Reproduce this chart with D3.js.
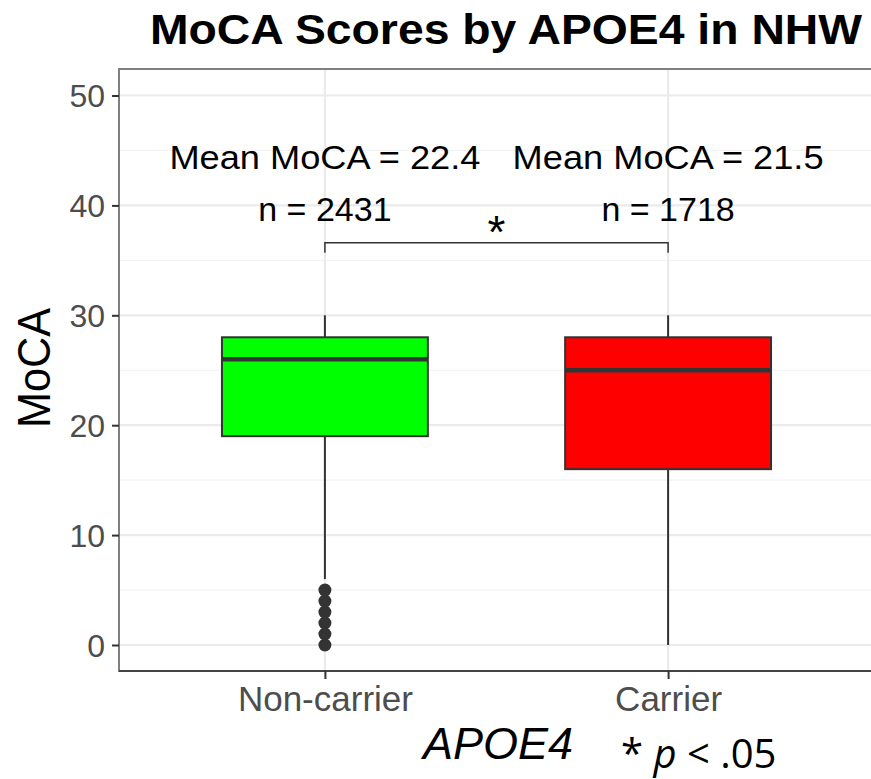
<!DOCTYPE html>
<html>
<head>
<meta charset="utf-8">
<script src="https://cdn.jsdelivr.net/npm/d3@7"></script>
<style>
  html, body { margin: 0; padding: 0; background: #fff; }
  svg { display: block; }
</style>
</head>
<body>
<svg id="chart" width="871" height="779"></svg>
<script>
// Groups and summary statistics (MoCA by APOE4 carrier status)
const groups = ["Non-carrier", "Carrier"];
const boxFill = ["#00ff00", "#ff0000"];
const whiskerLow = [6, 0];
const q1 = [19, 16];
const medians = [26, 25];
const q3 = [28, 28];
const whiskerHigh = [30, 30];
const outliers = [[0, 1, 2, 3, 4, 5], []];
const meanScores = [22.4, 21.5];
const counts = [2431, 1718];
const yTicks = [0, 10, 20, 30, 40, 50];
const yMinor = [5, 15, 25, 35, 45];

const svg = d3.select("#chart");
const font = "'Liberation Sans', Arial, Helvetica, sans-serif";

const panel = { left: 119, right: 874, top: 69, bottom: 671 };

const x = d3.scalePoint().domain(groups)
  .range([panel.left, panel.right]).padding(0.6);
const y = d3.scaleLinear().domain([0, 50]).range([645, 95.5]);
const boxW = x.step() * 0.6;

svg.append("defs").append("clipPath").attr("id", "panelClip")
  .append("rect")
  .attr("x", panel.left).attr("y", panel.top)
  .attr("width", panel.right - panel.left).attr("height", panel.bottom - panel.top);

const g = svg.append("g").attr("clip-path", "url(#panelClip)");

// grid
g.selectAll(".minor").data(yMinor).join("line")
  .attr("x1", panel.left).attr("x2", panel.right)
  .attr("y1", d => y(d)).attr("y2", d => y(d))
  .attr("stroke", "#f2f2f2").attr("stroke-width", 1.2);
g.selectAll(".major").data(yTicks).join("line")
  .attr("x1", panel.left).attr("x2", panel.right)
  .attr("y1", d => y(d)).attr("y2", d => y(d))
  .attr("stroke", "#ebebeb").attr("stroke-width", 2.2);
g.selectAll(".vmajor").data(groups).join("line")
  .attr("x1", d => x(d)).attr("x2", d => x(d))
  .attr("y1", panel.top).attr("y2", panel.bottom)
  .attr("stroke", "#ebebeb").attr("stroke-width", 2.2);

// boxes
const boxes = g.selectAll(".box").data(groups).join("g");
boxes.append("line")
  .attr("x1", d => x(d)).attr("x2", d => x(d))
  .attr("y1", (d, i) => y(whiskerHigh[i])).attr("y2", (d, i) => y(q3[i]))
  .attr("stroke", "#333").attr("stroke-width", 2);
boxes.append("line")
  .attr("x1", d => x(d)).attr("x2", d => x(d))
  .attr("y1", (d, i) => y(q1[i])).attr("y2", (d, i) => y(whiskerLow[i]))
  .attr("stroke", "#333").attr("stroke-width", 2);
boxes.append("rect")
  .attr("x", d => x(d) - boxW / 2).attr("width", boxW)
  .attr("y", (d, i) => y(q3[i])).attr("height", (d, i) => y(q1[i]) - y(q3[i]))
  .attr("fill", (d, i) => boxFill[i])
  .attr("stroke", "#333").attr("stroke-width", 2);
boxes.append("line")
  .attr("x1", d => x(d) - boxW / 2).attr("x2", d => x(d) + boxW / 2)
  .attr("y1", (d, i) => y(medians[i])).attr("y2", (d, i) => y(medians[i]))
  .attr("stroke", "#333").attr("stroke-width", 4.5);
boxes.each(function (d, i) {
  d3.select(this).selectAll("circle").data(outliers[i]).join("circle")
    .attr("cx", x(d)).attr("cy", v => y(v)).attr("r", 6.5)
    .attr("fill", "#333");
});

// panel border
svg.append("rect")
  .attr("x", panel.left).attr("y", panel.top)
  .attr("width", panel.right - panel.left).attr("height", panel.bottom - panel.top)
  .attr("fill", "none").attr("stroke", "#7f7f7f").attr("stroke-width", 2);
svg.append("line")
  .attr("x1", panel.left).attr("x2", panel.right)
  .attr("y1", panel.bottom).attr("y2", panel.bottom)
  .attr("stroke", "#444").attr("stroke-width", 2);

// axes
const yAxis = svg.append("g").attr("transform", `translate(${panel.left},0)`)
  .call(d3.axisLeft(y).tickValues(yTicks).tickSize(7).tickPadding(7));
const xAxis = svg.append("g").attr("transform", `translate(0,${panel.bottom})`)
  .call(d3.axisBottom(x).tickSize(8).tickPadding(6));
[yAxis, xAxis].forEach(a => {
  a.select(".domain").remove();
  a.selectAll(".tick line").attr("stroke", "#333").attr("stroke-width", 2);
  a.selectAll(".tick text").attr("fill", "#4d4d4d").attr("font-family", font);
});
yAxis.selectAll(".tick text").attr("font-size", 32).attr("dy", "0.35em");
xAxis.selectAll(".tick text").attr("font-size", 35).attr("dy", "0.74em");

// annotations: means and counts
const ann = svg.append("g").attr("font-family", font).attr("fill", "#000")
  .attr("text-anchor", "middle").attr("font-size", 34);
ann.selectAll(".mean").data(groups).join("text")
  .attr("x", d => x(d)).attr("y", y(43.3))
  .attr("textLength", 311).attr("lengthAdjust", "spacingAndGlyphs")
  .text((d, i) => `Mean MoCA = ${meanScores[i].toFixed(1)}`);
ann.selectAll(".n").data(groups).join("text")
  .attr("x", d => x(d)).attr("y", y(38.6))
  .text((d, i) => `n = ${counts[i]}`);

// significance bracket
const yb = y(36.6), ybt = y(35.7);
svg.append("path")
  .attr("d", `M${x(groups[0])},${ybt}V${yb}H${x(groups[1])}V${ybt}`)
  .attr("fill", "none").attr("stroke", "#333").attr("stroke-width", 1.5);
svg.append("text")
  .attr("x", (x(groups[0]) + x(groups[1])) / 2).attr("y", yb + 5)
  .attr("text-anchor", "middle").attr("font-family", font)
  .attr("font-size", 46).attr("fill", "#000").text("*");

// title and axis titles
svg.append("text")
  .attr("x", 506).attr("y", 44)
  .attr("text-anchor", "middle").attr("font-family", font)
  .attr("font-weight", "bold").attr("font-size", 43)
  .attr("textLength", 712).attr("lengthAdjust", "spacingAndGlyphs")
  .attr("fill", "#000").text("MoCA Scores by APOE4 in NHW");
svg.append("text")
  .attr("transform", `translate(50,368) rotate(-90)`)
  .attr("text-anchor", "middle").attr("font-family", font)
  .attr("font-size", 46).attr("fill", "#000")
  .attr("textLength", 120).attr("lengthAdjust", "spacingAndGlyphs")
  .text("MoCA");
svg.append("text")
  .attr("x", 498).attr("y", 759)
  .attr("text-anchor", "middle").attr("font-family", font)
  .attr("font-style", "italic").attr("font-size", 45).attr("fill", "#000")
  .text("APOE4");

// significance note
const note = svg.append("text")
  .attr("x", 621).attr("y", 768)
  .attr("font-family", "'Open Sans', 'Noto Sans', sans-serif")
  .attr("font-size", 40).attr("fill", "#000");
note.append("tspan").text("* ");
note.append("tspan").attr("font-style", "italic").text("p");
note.append("tspan").text(" < .05");
</script>
</body>
</html>
